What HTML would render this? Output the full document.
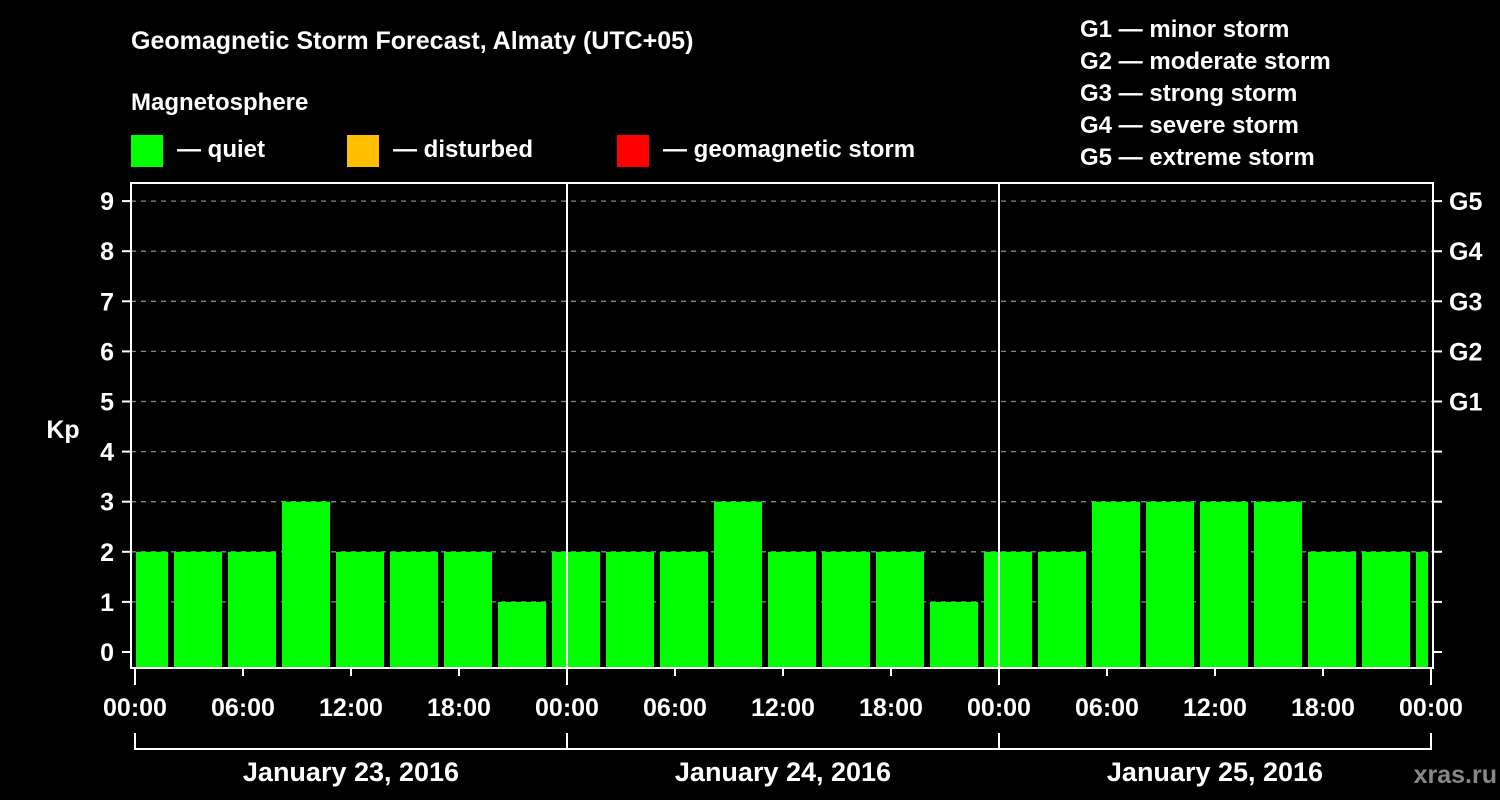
<!DOCTYPE html>
<html><head><meta charset="utf-8"><style>
html,body{margin:0;padding:0;background:#000;}
svg{display:block;font-family:"Liberation Sans",Arial,sans-serif;font-weight:bold;}
</style></head><body>
<svg id="chart" width="1500" height="800" viewBox="0 0 1500 800">
<rect width="1500" height="800" fill="#000"/>
<text x="131" y="49" fill="#fff" font-size="25">Geomagnetic Storm Forecast, Almaty (UTC+05)</text>
<text x="131" y="110" fill="#fff" font-size="24">Magnetosphere</text>
<g><rect x="131" y="135" width="32" height="32" fill="#00ff00"/><text x="177" y="157" fill="#fff" font-size="24">— quiet</text></g>
<g><rect x="347" y="135" width="32" height="32" fill="#ffbf00"/><text x="393" y="157" fill="#fff" font-size="24">— disturbed</text></g>
<g><rect x="617" y="135" width="32" height="32" fill="#ff0000"/><text x="663" y="157" fill="#fff" font-size="24">— geomagnetic storm</text></g>
<g fill="#fff" font-size="24">
<text x="1080" y="37">G1 — minor storm</text>
<text x="1080" y="69">G2 — moderate storm</text>
<text x="1080" y="101">G3 — strong storm</text>
<text x="1080" y="133">G4 — severe storm</text>
<text x="1080" y="165">G5 — extreme storm</text>
</g>
<text x="63" y="438" fill="#fff" font-size="25" text-anchor="middle">Kp</text>
<text x="1497" y="783" fill="#888" font-size="25" text-anchor="end">xras.ru</text>
<defs><clipPath id="pc"><rect x="136" y="183" width="1292" height="485"/></clipPath></defs>
<g id="grid"></g><g id="bars" clip-path="url(#pc)"></g><g id="axes"></g>
</svg>
<script>
const kpValues=[2,2,2,3,2,2,2,1, 2,2,2,3,2,2,2,1, 2,2,3,3,3,3,2,2, 2];
const yTicks=[0,1,2,3,4,5,6,7,8,9];
const gLabels=["G1","G2","G3","G4","G5"];
const xTickLabels=["00:00","06:00","12:00","18:00","00:00","06:00","12:00","18:00","00:00","06:00","12:00","18:00","00:00"];
const dayLabels=["January 23, 2016","January 24, 2016","January 25, 2016"];
const NS="http://www.w3.org/2000/svg";
const y=v=>652-v*50.1;
const x=h=>135+h*18;
function mk(tag,attrs,parent,text){const e=document.createElementNS(NS,tag);for(const k in attrs)e.setAttribute(k,attrs[k]);if(text!==undefined)e.textContent=text;parent.appendChild(e);return e;}
const grid=document.getElementById('grid'),bars=document.getElementById('bars'),axes=document.getElementById('axes');
yTicks.forEach(v=>{
  if(v>0){const l=mk('line',{x1:131,x2:1433,y1:y(v),y2:y(v),stroke:'#888','stroke-width':1.3,'stroke-dasharray':'5,5'},grid);
  
  }
  const t=mk('line',{x1:122,x2:131,y1:y(v),y2:y(v),stroke:'#fff','stroke-width':2},axes);
  
  
  mk('line',{x1:1433,x2:1442,y1:y(v),y2:y(v),stroke:'#fff','stroke-width':2},axes);
  const tl=mk('text',{x:114,y:y(v)+9,fill:'#fff','font-size':25,'text-anchor':'end'},axes,String(v));
  
  
});
gLabels.forEach((g,i)=>{
  const t=mk('text',{x:1449,y:y(5+i)+9,fill:'#fff','font-size':25},axes,g);
  
  
});
kpValues.forEach((v,i)=>{
  const left=x(i*3)-15;
  const color=v>=5?'#ff0000':(v>=4?'#ffbf00':'#00ff00');
  const r=mk('rect',{x:left,y:y(v),width:48,height:668-y(v),fill:color},bars);
  
  
});
const frame=mk('rect',{x:131,y:183,width:1302,height:485,fill:'none',stroke:'#fff','stroke-width':2},axes);


[1,2].forEach(d=>{
  const l=mk('line',{x1:x(d*24),x2:x(d*24),y1:183,y2:668,stroke:'#fff','stroke-width':2},axes);
  
  
});
xTickLabels.forEach((s,i)=>{
  const xx=x(i*6);
  mk('line',{x1:xx,x2:xx,y1:668,y2:i%4==0?685:676,stroke:'#fff','stroke-width':2},axes);
  const t=mk('text',{x:xx,y:716,fill:'#fff','font-size':25,'text-anchor':'middle'},axes,s);
  
  
});
mk('line',{x1:x(0),x2:x(72),y1:749,y2:749,stroke:'#fff','stroke-width':2},axes);
[0,1,2,3].forEach(d=>mk('line',{x1:x(d*24),x2:x(d*24),y1:733,y2:750,stroke:'#fff','stroke-width':2},axes));
dayLabels.forEach((s,i)=>{
  const t=mk('text',{x:x(i*24+12),y:781,fill:'#fff','font-size':27,'text-anchor':'middle'},axes,s);
  
  
});
</script>
</body></html>
